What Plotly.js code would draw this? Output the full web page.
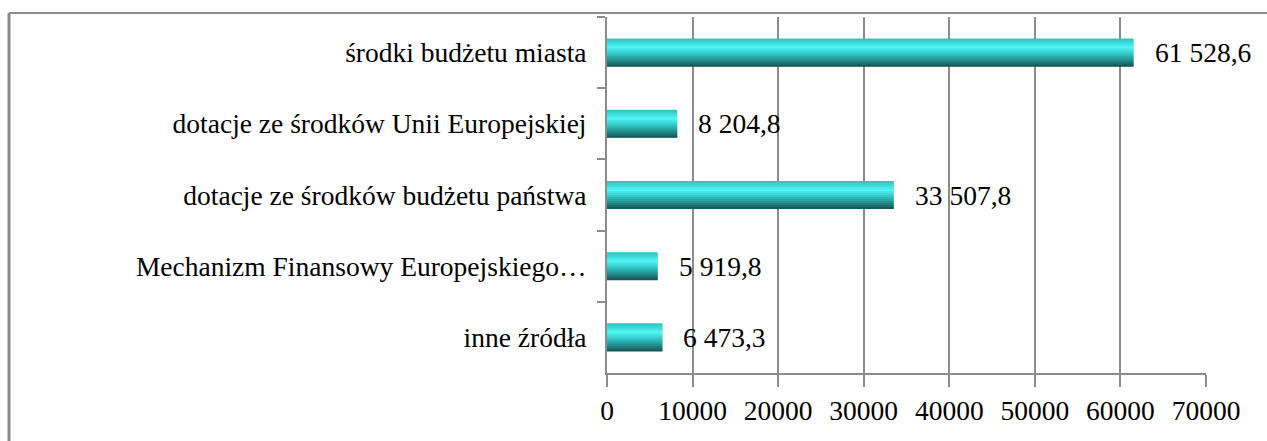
<!DOCTYPE html>
<html>
<head>
<meta charset="utf-8">
<script src="https://cdn.plot.ly/plotly-3.0.1.min.js"></script>
<style>html,body{margin:0;padding:0;background:#fff;}#chart{width:1267px;height:441px;}</style>
</head>
<body>
<div id="chart"></div>
<script>
// Data (top to bottom as in the chart)
const categories = [
  "środki budżetu miasta",
  "dotacje ze środków Unii Europejskiej",
  "dotacje ze środków budżetu państwa",
  "Mechanizm Finansowy Europejskiego…",
  "inne źródła"
];
const values = [61528.6, 8204.8, 33507.8, 5919.8, 6473.3];
const xTickValues = [0, 10000, 20000, 30000, 40000, 50000, 60000, 70000];
const xTickLabels = ["0", "10000", "20000", "30000", "40000", "50000", "60000", "70000"];

function fmt(v) {
  const parts = v.toFixed(1).split(".");
  const intPart = parts[0].replace(/\B(?=(\d{3})+(?!\d))/g, " ");
  return intPart + "," + parts[1];
}

// gradient stripes to emulate the cylinder-like bar shading
const stops = [
  [0.00, [52, 196, 196]],
  [0.30, [80, 246, 246]],
  [0.55, [50, 200, 200]],
  [0.80, [34, 140, 140]],
  [1.00, [24, 90, 90]]
];
function colorAt(t) {
  for (let i = 0; i < stops.length - 1; i++) {
    const a = stops[i], b = stops[i + 1];
    if (t >= a[0] && t <= b[0]) {
      const f = (t - a[0]) / (b[0] - a[0]);
      const c = a[1].map((v, k) => Math.round(v + (b[1][k] - v) * f));
      return "rgb(" + c.join(",") + ")";
    }
  }
  return "rgb(24,90,90)";
}

const W = 0.395;
const N = 14;
const traces = [];
for (let i = 0; i < N; i++) {
  const off = -W / 2 + i * W / N;
  traces.push({
    type: "bar",
    orientation: "h",
    x: values,
    y: categories,
    offset: off,
    width: Math.min((W / N) * 1.8, W / 2 - off),
    marker: { color: colorAt(i / (N - 1)), line: { width: 0 } },
    hoverinfo: "skip",
    showlegend: false
  });
}

const font = { family: "Liberation Serif", size: 27.5, color: "#000" };

const annotations = values.map((v, i) => ({
  x: v, y: categories[i], xref: "x", yref: "y",
  text: fmt(v), showarrow: false, xanchor: "left", yanchor: "middle",
  xshift: 19, font: font
}));

const gray = "#8c8c8c";
const shapes = [
  // outer frame: top and left edges
  { type: "line", xref: "paper", yref: "paper", x0: -0.9983, x1: 1.11, y0: 1.0112, y1: 1.0112, line: { color: gray, width: 2 } },
  { type: "line", xref: "paper", yref: "paper", x0: -0.9983, x1: -0.9983, y0: 1.0112, y1: -0.2, line: { color: gray, width: 3 } }
];

const layout = {
  width: 1267, height: 441,
  margin: { l: 607, r: 61, t: 17, b: 68 },
  paper_bgcolor: "#fff", plot_bgcolor: "#fff",
  barmode: "overlay",
  font: font,
  showlegend: false,
  xaxis: {
    range: [0, 70000],
    tickvals: xTickValues, ticktext: xTickLabels,
    showgrid: true, gridcolor: gray, gridwidth: 2,
    zeroline: false,
    showline: true, linecolor: gray, linewidth: 2,
    ticks: "outside", ticklen: 12, tickwidth: 2, tickcolor: gray,
    ticklabelstandoff: 0,
    tickfont: font, fixedrange: true
  },
  yaxis: {
    type: "category",
    autorange: "reversed",
    showgrid: false, zeroline: false,
    showline: true, linecolor: gray, linewidth: 2,
    ticks: "outside", tickson: "boundaries", ticklen: 8, tickwidth: 2, tickcolor: gray,
    ticklabelstandoff: 13,
    tickfont: font, fixedrange: true
  },
  annotations: annotations,
  shapes: shapes
};

Plotly.newPlot("chart", traces, layout, { displayModeBar: false, staticPlot: true });
</script>
</body>
</html>
